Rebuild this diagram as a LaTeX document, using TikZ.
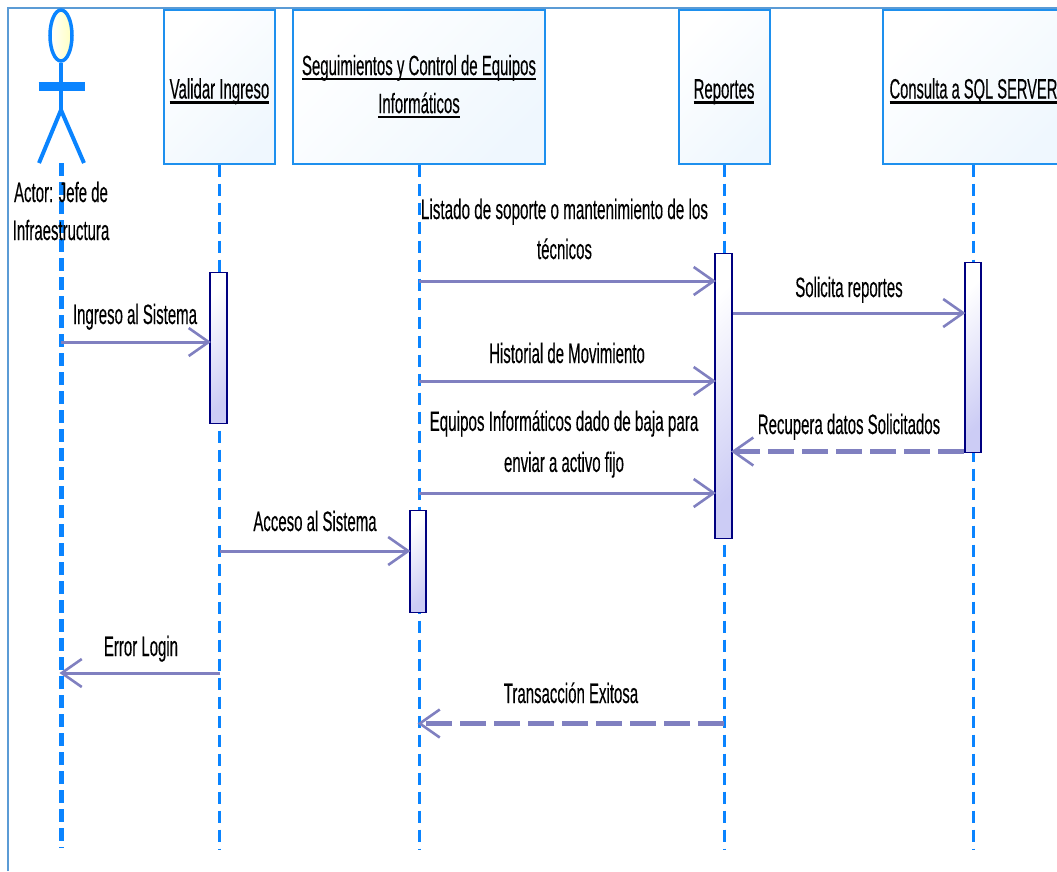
\documentclass[tikz,border=0pt]{standalone}
\usepackage{fontspec}
\usepackage{graphicx}
\usetikzlibrary{arrows.meta,shapes.geometric,positioning}
\newfontfamily\labfont[FakeStretch=0.535,FakeBold=0.25]{Liberation Sans}
\newcommand\ubar[1]{\setbox0\hbox{#1}\rlap{\rule[-5pt]{\wd0}{2.2pt}}\box0}
\definecolor{lifeblue}{HTML}{0A84FF}
\definecolor{boxblue}{HTML}{1E90EE}
\definecolor{framblue}{HTML}{5B9BD5}
\definecolor{msg}{HTML}{8080C0}
\definecolor{actnavy}{HTML}{000080}
\definecolor{actfill}{HTML}{CCCCF5}
\tikzset{
  x=1pt,y=-1pt,
  objbox/.style={draw=boxblue,line width=2pt,rectangle,inner sep=0pt,minimum height=154pt,
    left color=white,right color=white!90!boxblue!70!white,shading angle=45,align=center,
    font=\labfont\fontsize{28}{38}\selectfont,anchor=north west},
  oneline/.style={text height=24pt,text depth=0pt},
  activ/.style={draw=actnavy,line width=1.6pt,rectangle,inner sep=0pt,minimum width=16.5pt,
    left color=white,right color=actfill,shading angle=45,anchor=north},
  lifeline/.style={draw=lifeblue,line width=3pt,dash pattern=on 12pt off 7pt},
  actorline/.style={draw=lifeblue,line width=4pt},
  msgsolid/.style={draw=msg,line width=3pt,shorten >=-1.5pt,-{Straight Barb[length=20pt,width=28pt,line width=2.6pt]}},
  msgdash/.style={draw=msg,line width=5.5pt,shorten >=-1.5pt,dash pattern=on 26pt off 8pt,-{Straight Barb[length=20pt,width=28pt,line width=2.6pt]}},
  lbl/.style={inner sep=0pt,align=center,anchor=base,font=\labfont\fontsize{28}{38}\selectfont},
  lblc/.style={inner sep=0pt,align=center,anchor=center,font=\labfont\fontsize{28}{38}\selectfont},
}
\begin{document}
\begin{tikzpicture}
\useasboundingbox (0,0) rectangle (1057,871);
% frame
\draw[framblue,line width=2pt] (8,871) -- (8,8) -- (1057,8);
% object boxes
\node[objbox,oneline,minimum width=111pt] (ov) at (163,8.5) {\ubar{Validar Ingreso}};
\node[objbox,minimum width=252pt] (os) at (292,8.5) {\ubar{Seguimientos y Control de Equipos}\\\ubar{Informáticos}};
\node[objbox,oneline,minimum width=91pt] (or) at (677.5,8.5) {\ubar{Reportes}};
\node[objbox,oneline,minimum width=182pt] (oc) at (881.5,8.5) {\ubar{\scalebox{0.98}[1]{Consulta a SQL SERVER}}};
% lifeline ends
\coordinate (ea) at (61,848);
\coordinate (ev) at (ov.south |- 0,850);
\coordinate (es) at (os.south |- 0,850);
\coordinate (er) at (or.south |- 0,850);
\coordinate (ec) at (oc.south |- 0,850);
\coordinate (sa) at (61,163);
\draw[draw=lifeblue,line width=5pt,dash pattern=on 13pt off 6pt] (sa) -- (ea);
\draw[lifeline] (ov.south) -- (ev);
\draw[lifeline] (os.south) -- (es);
\draw[lifeline] (or.south) -- (er);
\draw[lifeline] (oc.south) -- (ec);
% actor
\node[ellipse,draw=lifeblue,line width=3.5pt,inner sep=0pt,minimum width=22pt,minimum height=51pt,
  left color=white,right color=yellow!25!white] (head) at (61,35.5) {};
\coordinate (hip) at (61,110);
\coordinate (armL) at (38.5,86);
\coordinate (armR) at (84.5,86);
\coordinate (legL) at (39,163);
\coordinate (legR) at (84,163);
\draw[actorline] (head.south) -- (hip);
\draw[draw=lifeblue,line width=9pt] (armL) -- (armR);
\draw[actorline] (legL) -- (hip) -- (legR);
% activations
\node[activ,minimum height=151pt] (av) at (218.5,271.5) {};
\node[activ,minimum height=102pt] (as) at (418,509.5) {};
\node[activ,minimum height=285pt] (ar) at (723.5,252.5) {};
\node[activ,minimum height=190pt] (ac) at (973,261.5) {};
% messages
\draw[msgsolid] (sa |- 0,342) -- (av.west |- 0,342);
\draw[msgsolid] (ov.south |- 0,551) -- (as.west |- 0,551);
\draw[msgsolid] (ov.south |- 0,673) -- (sa |- 0,673);
\draw[msgsolid] (os.south |- 0,281) -- (ar.west |- 0,281);
\draw[msgsolid] (os.south |- 0,381) -- (ar.west |- 0,381);
\draw[msgsolid] (os.south |- 0,493) -- (ar.west |- 0,493);
\draw[msgsolid] (ar.east |- 0,313) -- (ac.west |- 0,313);
\draw[msgdash] (ac.west |- 0,451.5) -- (ar.east |- 0,451.5);
\draw[msgdash] (or.south |- 0,723.5) -- (os.south |- 0,723.5);
% labels
\node[lblc] (tactor) at (61,211) {Actor: Jefe de\\Infraestructura};
\node[lblc] (t1) at (564.5,229) {\scalebox{1.017}[1]{Listado de soporte o mantenimiento de los}\\[2pt]técnicos};
\node[lbl] (t2) at (135,324) {Ingreso al Sistema};
\node[lbl] (t3) at (849,297) {Solicita reportes};
\node[lbl] (t4) at (567,363) {Historial de Movimiento};
\node[lbl] (t5) at (849,434) {Recupera datos Solicitados};
\node[lblc] (t6) at (564,444) {\scalebox{1.015}[1]{Equipos Informáticos dado de baja para}\\[3pt]enviar a activo fijo};
\node[lbl] (t7) at (315,531) {Acceso al Sistema};
\node[lbl] (t8) at (141,656) {Error Login};
\node[lbl] (t9) at (571,703) {Transacción Exitosa};
\end{tikzpicture}
\end{document}
